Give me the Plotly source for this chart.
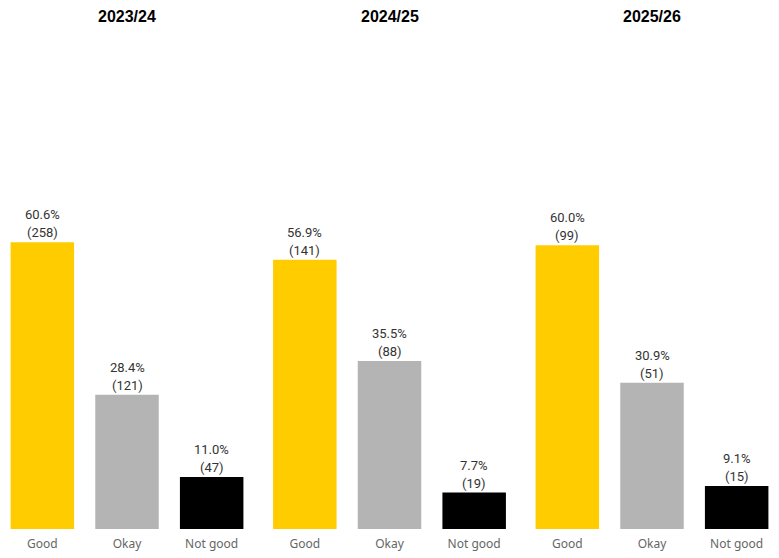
import plotly.graph_objects as go

years = ["2023/24", "2024/25", "2025/26"]
categories = ["Good", "Okay", "Not good"]
pct = {
    "2023/24": [60.6, 28.4, 11.0],
    "2024/25": [56.9, 35.5, 7.7],
    "2025/26": [60.0, 30.9, 9.1],
}
counts = {
    "2023/24": [258, 121, 47],
    "2024/25": [141, 88, 19],
    "2025/26": [99, 51, 15],
}
colors = ["#FFCC00", "#B4B4B4", "#000000"]

W, H = 779, 558
OFF = 8  # page body margin offset
slot = 254.0 / 3  # px per category
# panel pixel extents in figure coordinates
panels = [(-OFF, 254 - OFF), (262.5 - OFF, 516.5 - OFF), (525 - OFF, 779 - OFF)]

fig = go.Figure()
label_font = dict(family="Roboto, Noto Sans, sans-serif", size=13, color="#333333")

for i, y in enumerate(years):
    sfx = "" if i == 0 else str(i + 1)
    x0, x1 = panels[i]
    lo = -0.5
    if x0 < 0:
        lo = -0.5 + (-x0) / slot
        x0 = 0
    hi = 2.5
    if x1 > W:
        hi = 2.5 - (x1 - W) / slot
        x1 = W
    fig.add_trace(
        go.Bar(
            x=categories,
            y=pct[y],
            marker=dict(color=colors, line=dict(width=0)),
            width=0.75,
            hoverinfo="skip",
            showlegend=False,
            xaxis="x" + sfx,
            yaxis="y" + sfx,
        )
    )
    fig.update_layout(**{
        "xaxis" + sfx: dict(
            domain=[x0 / W, x1 / W], range=[lo, hi], anchor="y" + sfx,
            showgrid=False, showline=False, zeroline=False, ticks="",
            ticklabelstandoff=6,
            tickfont=dict(family="Noto Sans, sans-serif", size=12, color="#666666"),
        ),
        "yaxis" + sfx: dict(
            range=[0, 105.5], visible=False, showgrid=False, anchor="x" + sfx,
        ),
    })
    for c, p, n in zip(categories, pct[y], counts[y]):
        fig.add_annotation(
            x=c, y=p, xref="x" + sfx, yref="y" + sfx,
            text=f"({n})", showarrow=False, yanchor="bottom", yshift=0,
            font=label_font,
        )
        fig.add_annotation(
            x=c, y=p, xref="x" + sfx, yref="y" + sfx,
            text=f"{p:.1f}%", showarrow=False, yanchor="bottom", yshift=18,
            font=label_font,
        )
    cx = (panels[i][0] + panels[i][1]) / 2
    fig.add_annotation(
        text=f"<b>{y}</b>",
        xref="paper", yref="paper",
        x=cx / W, xanchor="center", y=1, yanchor="bottom", yshift=3,
        showarrow=False,
        font=dict(family="Liberation Sans, Arial, sans-serif", size=16, color="#000000"),
    )

fig.update_layout(
    width=W, height=H,
    margin=dict(l=0, r=0, t=30 - OFF, b=29 + OFF),
    plot_bgcolor="white", paper_bgcolor="white",
)

fig.write_html("out.html")
